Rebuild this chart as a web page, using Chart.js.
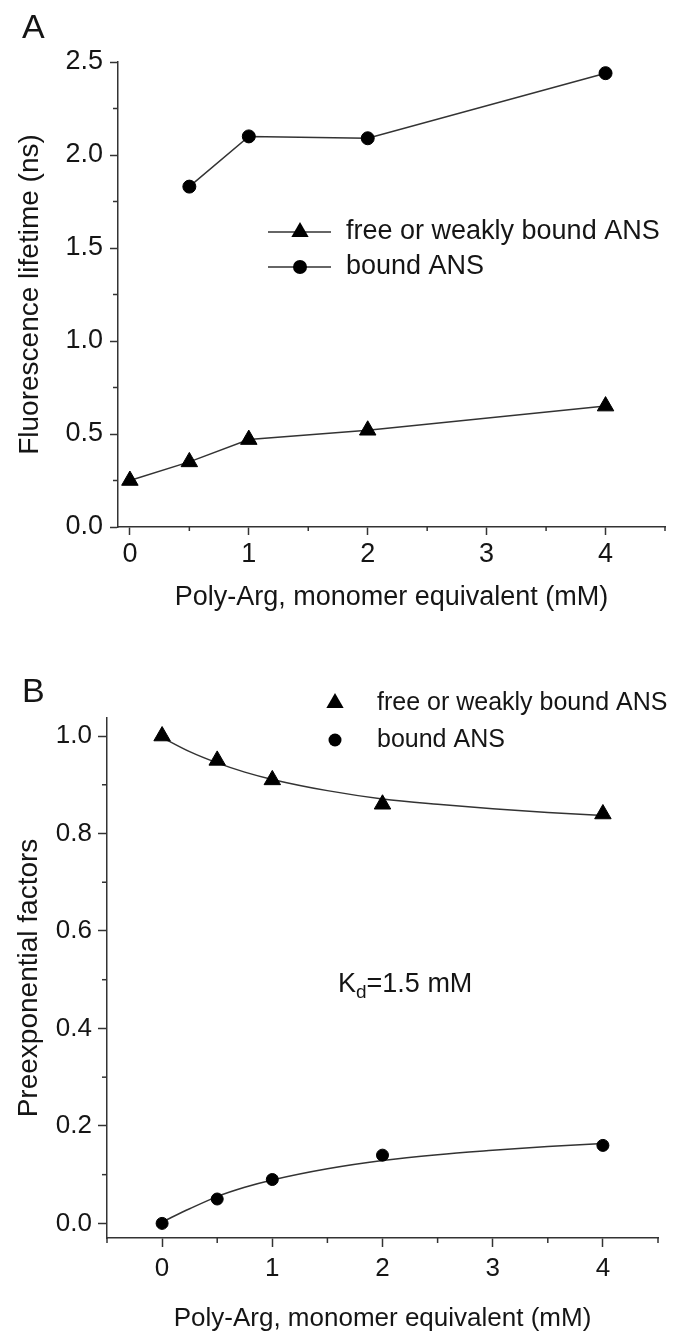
<!DOCTYPE html>
<html lang="en">
<head>
  <meta charset="UTF-8">
  <title>ANS lifetimes and preexponential factors</title>
  <script src="https://cdn.jsdelivr.net/npm/chart.js"></script>
  <style>
    body {
      margin: 0;
      background: #fff;
    }
    canvas {
      display: block;
    }
  </style>
</head>
<body>
  <canvas id="chartA" width="679" height="620"></canvas>
  <canvas id="chartB" width="679" height="719"></canvas>

  <script>
    // panel A: fluorescence lifetimes (ns)
    const polyArg = [0, 0.5, 1, 2, 4];
    const lifetimeFree = [0.25, 0.35, 0.47, 0.52, 0.65];
    const polyArgBound = [0.5, 1, 2, 4];
    const lifetimeBound = [1.83, 2.10, 2.09, 2.44];
    const xTicksA = [0, 0.5, 1, 1.5, 2, 2.5, 3, 3.5, 4, 4.5];
    const yTicksA = [0, 0.25, 0.5, 0.75, 1, 1.25, 1.5, 1.75, 2, 2.25, 2.5];

    // panel B: preexponential factors, with the Kd = 1.5 mM fit curves
    const factorFree = [1.0, 0.95, 0.91, 0.86, 0.84];
    const factorBound = [0.0, 0.05, 0.09, 0.14, 0.16];
    const fitX = [0, 0.25, 0.5, 0.75, 1, 1.5, 2, 2.5, 3, 3.5, 4];
    const fitFree = [0.997, 0.968, 0.945, 0.926, 0.911, 0.888, 0.871, 0.86, 0.851, 0.843, 0.837];
    const fitBound = [0.003, 0.03, 0.055, 0.074, 0.089, 0.112, 0.129, 0.141, 0.15, 0.158, 0.164];
    const xTicksB = [-0.5, 0, 0.5, 1, 1.5, 2, 2.5, 3, 3.5, 4, 4.5];
    const yTicksB = [0, 0.1, 0.2, 0.3, 0.4, 0.5, 0.6, 0.7, 0.8, 0.9, 1.0];

    const FONT = '"Liberation Sans", Arial, Helvetica, sans-serif';
    const INK = '#151515';
    const LINE = '#333';

    Chart.defaults.font.family = FONT;
    Chart.defaults.color = INK;

    function toPoints(xs, ys) {
      return xs.map((x, i) => ({ x: x, y: ys[i] }));
    }

    function isMajor(v, step) {
      const r = v / step;
      return Math.abs(r - Math.round(r)) < 1e-6;
    }

    function linearAxis(o) {
      return {
        type: 'linear',
        min: o.min,
        max: o.max,
        minorLength: o.minorLength,
        afterBuildTicks: axis => { axis.ticks = o.ticks.map(v => ({ value: v })); },
        afterFit: scale => {
          if (o.width) scale.width = o.width;
          if (o.height) scale.height = o.height;
        },
        border: { display: true, color: LINE, width: 1.5 },
        grid: {
          display: true,
          drawOnChartArea: false,
          drawTicks: true,
          tickLength: o.tickLength,
          tickWidth: 1.5,
          color: LINE,
          // minor ticks are drawn shorter by the overlay plugin
          tickColor: ctx => (ctx.tick && isMajor(ctx.tick.value, o.labelStep)) ? LINE : 'rgba(0,0,0,0)'
        },
        ticks: {
          autoSkip: false,
          maxRotation: 0,
          padding: o.padding,
          color: INK,
          font: { size: o.fontSize },
          callback: v => isMajor(v, o.labelStep) ? v.toFixed(o.decimals) : ''
        },
        title: {
          display: true,
          text: o.title,
          color: INK,
          font: { size: o.titleSize },
          padding: o.titlePadding
        }
      };
    }

    function drawMarker(ctx, style, x, y, r) {
      ctx.beginPath();
      if (style === 'triangle') {
        for (let i = 0; i < 3; i++) {
          const a = i * 2 * Math.PI / 3;
          const px = x + Math.sin(a) * r;
          const py = y - Math.cos(a) * r;
          if (i === 0) ctx.moveTo(px, py); else ctx.lineTo(px, py);
        }
        ctx.closePath();
      } else {
        ctx.arc(x, y, r, 0, 2 * Math.PI);
      }
      ctx.fill();
    }

    // panel letter, minor ticks, legend and the Kd note
    const overlay = {
      id: 'overlay',
      afterDraw(chart, args, opts) {
        const ctx = chart.ctx;
        ctx.save();

        ctx.strokeStyle = LINE;
        ctx.lineWidth = 1.5;
        Object.values(chart.scales).forEach(scale => {
          const len = scale.options.minorLength;
          if (!len) return;
          scale.ticks.forEach(t => {
            if (t.label !== '') return;
            const p = scale.getPixelForValue(t.value);
            ctx.beginPath();
            if (scale.isHorizontal()) {
              ctx.moveTo(p, scale.top);
              ctx.lineTo(p, scale.top + len);
            } else {
              ctx.moveTo(scale.right, p);
              ctx.lineTo(scale.right - len, p);
            }
            ctx.stroke();
          });
        });

        ctx.fillStyle = INK;
        ctx.textBaseline = 'alphabetic';
        ctx.font = '34px ' + FONT;
        ctx.fillText(opts.panel, 22, opts.panelY);

        ctx.font = opts.legendSize + 'px ' + FONT;
        ctx.textBaseline = 'middle';
        opts.rows.forEach(row => {
          const ds = chart.data.datasets[row.dataset];
          if (opts.lineFrom !== undefined) {
            ctx.beginPath();
            ctx.moveTo(opts.lineFrom, row.y);
            ctx.lineTo(opts.lineTo, row.y);
            ctx.stroke();
          }
          ctx.fillStyle = '#000';
          drawMarker(ctx, ds.pointStyle, opts.markerX, row.y, ds.pointRadius + 0.5);
          ctx.fillStyle = INK;
          ctx.fillText(ds.label, opts.textX, row.y);
        });

        if (opts.note) {
          const n = opts.note;
          ctx.textBaseline = 'alphabetic';
          ctx.font = n.size + 'px ' + FONT;
          let x = n.x;
          ctx.fillText('K', x, n.y);
          x += ctx.measureText('K').width;
          ctx.font = Math.round(n.size * 0.7) + 'px ' + FONT;
          ctx.fillText('d', x, n.y + 6);
          x += ctx.measureText('d').width;
          ctx.font = n.size + 'px ' + FONT;
          ctx.fillText('=1.5 mM', x, n.y);
        }
        ctx.restore();
      }
    };

    const baseOptions = {
      responsive: false,
      animation: false,
      events: [],
      plugins: {
        legend: { display: false },
        tooltip: { enabled: false }
      }
    };

    new Chart(document.getElementById('chartA'), {
      type: 'scatter',
      data: {
        datasets: [
          {
            label: 'free or weakly bound ANS',
            data: toPoints(polyArg, lifetimeFree),
            showLine: true,
            borderColor: LINE,
            borderWidth: 1.5,
            pointStyle: 'triangle',
            pointRadius: 9.5,
            pointBackgroundColor: '#000',
            pointBorderColor: '#000',
            pointBorderWidth: 1,
            clip: false
          },
          {
            label: 'bound ANS',
            data: toPoints(polyArgBound, lifetimeBound),
            showLine: true,
            borderColor: LINE,
            borderWidth: 1.5,
            pointStyle: 'circle',
            pointRadius: 6.5,
            pointBackgroundColor: '#000',
            pointBorderColor: '#000',
            pointBorderWidth: 1,
            clip: false
          }
        ]
      },
      options: {
        ...baseOptions,
        layout: { padding: { top: 62, right: 14, bottom: 0, left: 0 } },
        scales: {
          x: linearAxis({
            min: -0.1, max: 4.5, ticks: xTicksA, labelStep: 1, decimals: 0,
            height: 93, tickLength: 8, minorLength: 4, padding: 3, fontSize: 27,
            title: 'Poly-Arg, monomer equivalent (mM)', titleSize: 27,
            titlePadding: { top: 0, bottom: 6 }
          }),
          y: linearAxis({
            min: 0, max: 2.5, ticks: yTicksA, labelStep: 0.5, decimals: 1,
            width: 118, tickLength: 8, minorLength: 5, padding: 7, fontSize: 27,
            title: 'Fluorescence lifetime (ns)', titleSize: 28,
            titlePadding: { top: 13, bottom: 0 }
          })
        },
        plugins: {
          ...baseOptions.plugins,
          overlay: {
            panel: 'A', panelY: 38, legendSize: 27,
            lineFrom: 268, lineTo: 331, markerX: 300, textX: 346,
            rows: [{ dataset: 0, y: 232 }, { dataset: 1, y: 267 }]
          }
        }
      },
      plugins: [overlay]
    });

    new Chart(document.getElementById('chartB'), {
      type: 'scatter',
      data: {
        datasets: [
          {
            label: 'free or weakly bound ANS',
            data: toPoints(polyArg, factorFree),
            pointStyle: 'triangle',
            pointRadius: 9.5,
            pointBackgroundColor: '#000',
            pointBorderColor: '#000',
            pointBorderWidth: 1,
            clip: false
          },
          {
            label: 'bound ANS',
            data: toPoints(polyArg, factorBound),
            pointStyle: 'circle',
            pointRadius: 6,
            pointBackgroundColor: '#000',
            pointBorderColor: '#000',
            pointBorderWidth: 1,
            clip: false
          },
          {
            label: 'fit free',
            data: toPoints(fitX, fitFree),
            showLine: true,
            cubicInterpolationMode: 'monotone',
            borderColor: LINE,
            borderWidth: 1.5,
            pointRadius: 0,
            order: 1
          },
          {
            label: 'fit bound',
            data: toPoints(fitX, fitBound),
            showLine: true,
            cubicInterpolationMode: 'monotone',
            borderColor: LINE,
            borderWidth: 1.5,
            pointRadius: 0,
            order: 1
          }
        ]
      },
      options: {
        ...baseOptions,
        layout: { padding: { top: 98, right: 21, bottom: 0, left: 0 } },
        scales: {
          x: linearAxis({
            min: -0.5, max: 4.5, ticks: xTicksB, labelStep: 1, decimals: 0,
            height: 101, tickLength: 9, minorLength: 5, padding: 6, fontSize: 26,
            title: 'Poly-Arg, monomer equivalent (mM)', titleSize: 26,
            titlePadding: { top: 0, bottom: 5 }
          }),
          y: linearAxis({
            min: -0.03, max: 1.037, ticks: yTicksB, labelStep: 0.2, decimals: 1,
            width: 107, tickLength: 9, minorLength: 5, padding: 6, fontSize: 26,
            title: 'Preexponential factors', titleSize: 28,
            titlePadding: { top: 12, bottom: 0 }
          })
        },
        plugins: {
          ...baseOptions.plugins,
          overlay: {
            panel: 'B', panelY: 82, legendSize: 25,
            markerX: 335, textX: 377,
            rows: [{ dataset: 0, y: 83 }, { dataset: 1, y: 120 }],
            note: { x: 338, y: 372, size: 27 }
          }
        }
      },
      plugins: [overlay]
    });
  </script>
</body>
</html>
